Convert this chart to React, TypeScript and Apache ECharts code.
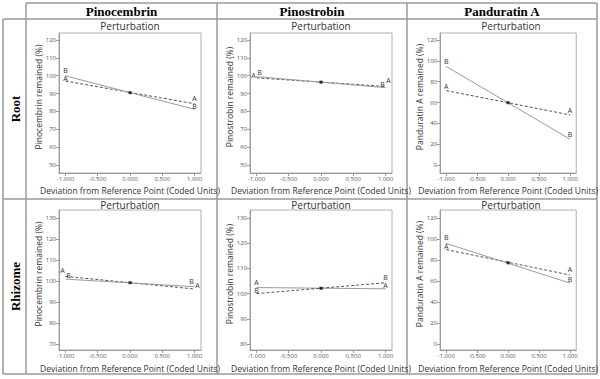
import { useEffect, useRef } from "react";
import * as echarts from "echarts";

// ---------- data ----------
const compounds = ["Pinocembrin", "Pinostrobin", "Panduratin A"];
const parts = ["Root", "Rhizome"];
const yNames = ["Pinocembrin remained (%)", "Pinostrobin remained (%)", "Panduratin A remained (%)"];
const xName = "Deviation from Reference Point (Coded Units)";
const plotTitle = "Perturbation";
const factors = ["A", "B"];
const deviation = [-1, 1];
const centerDeviation = 0;
const xTicks = [-1, -0.5, 0, 0.5, 1];

// values at deviation -1 and +1 for factor A and factor B
const rootPinocembrinA = [97.0, 84.3];
const rootPinocembrinB = [99.9, 81.2];
const rootPinostrobinA = [98.8, 94.0];
const rootPinostrobinB = [99.5, 93.3];
const rootPanduratinA_A = [71.4, 48.1];
const rootPanduratinA_B = [94.6, 24.8];
const rhizomePinocembrinA = [102.2, 96.2];
const rhizomePinocembrinB = [100.9, 97.3];
const rhizomePinostrobinA = [102.4, 101.9];
const rhizomePinostrobinB = [100.0, 104.3];
const rhizomePanduratinA_A = [89.9, 65.7];
const rhizomePanduratinA_B = [95.8, 58.0];
// reference point (deviation 0)
const centerValues = [90.5, 96.4, 59.8, 99.2, 102.1, 77.3];

const yTicksRootPinocembrin = [50, 60, 70, 80, 90, 100, 110, 120];
const yTicksRootPinostrobin = [50, 60, 70, 80, 90, 100, 110, 120];
const yTicksRootPanduratin = [0, 20, 40, 60, 80, 100, 120];
const yTicksRhizomePinocembrin = [70, 80, 90, 100, 110, 120, 130];
const yTicksRhizomePinostrobin = [80, 90, 100, 110, 120, 130];
const yTicksRhizomePanduratin = [0, 20, 40, 60, 80, 100, 120];

const panelA = [rootPinocembrinA, rootPinostrobinA, rootPanduratinA_A, rhizomePinocembrinA, rhizomePinostrobinA, rhizomePanduratinA_A];
const panelB = [rootPinocembrinB, rootPinostrobinB, rootPanduratinA_B, rhizomePinocembrinB, rhizomePinostrobinB, rhizomePanduratinA_B];
const panelTicks = [yTicksRootPinocembrin, yTicksRootPinostrobin, yTicksRootPanduratin, yTicksRhizomePinocembrin, yTicksRhizomePinostrobin, yTicksRhizomePanduratin];

// ---------- layout / style ----------
const SANS = "'Open Sans', 'Noto Sans', sans-serif";
const SERIF = "'Liberation Serif', 'DejaVu Serif', serif";
const colLeft = [59, 250, 440];
const boxW = 142;
const rowTop = [33, 210];
const boxH = 140;
const rowPad = [{ top: 7, bottom: 8 }, { top: 8, bottom: 6 }];
const xNameGap = [13, 14];
const titleOffset = [7, 5];
const tableX = [3, 26, 217, 407, 597];
const tableY = [3, 19, 199, 374];
const DASH = { color: "#555", type: [3, 2], width: 1 };
const SOLID = { color: "#9a9a9a", type: "solid", width: 1 };
// which factor is dashed per panel
const dashedFactor = ["A", "A", "A", "A", "B", "A"];
// label nudges [panel][factor] -> [left end, right end]
const labelNudge: Record<string, number[][]> = {
  "0A": [[0, 2], [0, -1]],
  "0B": [[0, -1], [0, 2]],
  "1A": [[-3, 2], [3, -1]],
  "1B": [[3, 0], [-3, 1]],
  "3A": [[-3, -1], [3, 1]],
  "3B": [[3, 1], [-3, -1]],
  "4A": [[0, -1], [0, 1]],
  "4B": [[0, 1], [0, -1]],
  "5A": [[0, 1], [0, -1]],
  "5B": [[0, -1], [0, 1]],
};

export default function App() {
  const ref = useRef<HTMLDivElement>(null);
  useEffect(() => {
    if (!ref.current) return;
    document.body.style.margin = "0";
    const chart = echarts.init(ref.current, undefined, { renderer: "svg" });

    const grids: any[] = [];
    const xAxes: any[] = [];
    const yAxes: any[] = [];
    const series: any[] = [];
    const graphics: any[] = [];

    for (let i = 0; i < 6; i++) {
      const r = Math.floor(i / 3);
      const c = i % 3;
      const ticks = panelTicks[i];
      const tMin = ticks[0];
      const tMax = ticks[ticks.length - 1];
      const pad = rowPad[r];
      const ppu = (boxH - pad.top - pad.bottom) / (tMax - tMin);
      const yMin = tMin - pad.bottom / ppu;
      const yMax = tMax + pad.top / ppu;

      grids.push({
        left: colLeft[c],
        top: rowTop[r],
        width: boxW,
        height: boxH,
        show: true,
        borderColor: "#b0b0b0",
        borderWidth: 1,
        backgroundColor: "transparent",
      });
      xAxes.push({
        type: "value",
        gridIndex: i,
        min: -1.1,
        max: 1.1,
        splitLine: { show: false },
        axisLine: { show: true, onZero: false, lineStyle: { color: "#9a9a9a" } },
        axisTick: { show: true, customValues: xTicks, length: 3, lineStyle: { color: "#9a9a9a" } },
        axisLabel: {
          customValues: xTicks,
          formatter: (v: number) => v.toFixed(3),
          fontSize: 6,
          color: "#555",
          margin: 3,
          fontFamily: SANS,
        },
        name: xName,
        nameLocation: "middle",
        nameGap: xNameGap[r],
        nameTextStyle: { fontSize: 8.5, color: "#333", fontFamily: SANS, lineHeight: 9 },
      });
      yAxes.push({
        type: "value",
        gridIndex: i,
        min: yMin,
        max: yMax,
        splitLine: { show: false },
        axisLine: { show: true, onZero: false, lineStyle: { color: "#9a9a9a" } },
        axisTick: { show: true, customValues: ticks, length: 3, lineStyle: { color: "#9a9a9a" } },
        axisLabel: {
          customValues: ticks,
          formatter: (v: number) => String(Math.round(v)),
          fontSize: 6,
          color: "#555",
          margin: 3,
          fontFamily: SANS,
        },
      });

      // y axis title
      graphics.push({
        type: "text",
        x: colLeft[c] - 21,
        y: rowTop[r] + boxH / 2 - 6,
        rotation: Math.PI / 2,
        style: {
          text: yNames[c],
          fill: "#333",
          fontSize: 8.5,
          fontFamily: SANS,
          textAlign: "center",
          textVerticalAlign: "middle",
          align: "center",
          verticalAlign: "middle",
        },
      });

      const vals = [panelA[i], panelB[i]];
      factors.forEach((f, k) => {
        const nudge = labelNudge[`${i}${f}`];
        const style = dashedFactor[i] === f ? DASH : SOLID;
        series.push({
          type: "line",
          name: f,
          xAxisIndex: i,
          yAxisIndex: i,
          symbol: "circle",
          symbolSize: 0.1,
          itemStyle: { color: style.color },
          lineStyle: style,
          label: {
            show: true,
            position: "top",
            distance: 1,
            formatter: () => f,
            fontSize: 7,
            color: "#333",
            textBorderWidth: 0,
            fontFamily: SANS,
          },
          data: deviation.map((x, j) =>
            nudge
              ? { value: [x, vals[k][j]], label: { offset: nudge[j] } }
              : { value: [x, vals[k][j]] }
          ),
          z: 3,
        });
      });
      series.push({
        type: "scatter",
        xAxisIndex: i,
        yAxisIndex: i,
        symbol: "rect",
        symbolSize: 3,
        itemStyle: { color: "#000" },
        data: [[centerDeviation, centerValues[i]]],
        z: 5,
      });

      graphics.push({
        type: "text",
        x: colLeft[c] + boxW / 2,
        y: rowTop[r] - titleOffset[r],
        style: {
          text: plotTitle,
          fill: "#333",
          fontSize: 10,
          lineHeight: 11,
          fontFamily: SANS,
          textAlign: "center",
          textVerticalAlign: "middle",
          align: "center",
          verticalAlign: "middle",
        },
      });
    }

    // table lines
    const lineStyle = { stroke: "#9a9a9a", lineWidth: 1.5 };
    const L = (x1: number, y1: number, x2: number, y2: number) => ({
      type: "line",
      shape: { x1, y1, x2, y2 },
      style: lineStyle,
      silent: true,
    });
    graphics.push(L(tableX[1], tableY[0], tableX[4], tableY[0]));
    graphics.push(L(tableX[0], tableY[1], tableX[4], tableY[1]));
    graphics.push(L(tableX[0], tableY[2], tableX[4], tableY[2]));
    graphics.push(L(tableX[0], tableY[3], tableX[4], tableY[3]));
    graphics.push(L(tableX[0], tableY[1], tableX[0], tableY[3]));
    for (let k = 1; k < 5; k++) graphics.push(L(tableX[k], tableY[0], tableX[k], tableY[3]));

    compounds.forEach((name, c) => {
      graphics.push({
        type: "text",
        x: (tableX[c + 1] + tableX[c + 2]) / 2,
        y: (tableY[0] + tableY[1]) / 2 + 0.5,
        style: {
          text: name,
          fill: "#000",
          fontSize: 13,
          fontWeight: "bold",
          fontFamily: SERIF,
          textAlign: "center",
          textVerticalAlign: "middle",
          align: "center",
          verticalAlign: "middle",
        },
      });
    });
    parts.forEach((name, r) => {
      graphics.push({
        type: "text",
        x: (tableX[0] + tableX[1]) / 2 + 0.5,
        y: (tableY[r + 1] + tableY[r + 2]) / 2,
        rotation: Math.PI / 2,
        style: {
          text: name,
          fill: "#000",
          fontSize: 13,
          fontWeight: "bold",
          fontFamily: SERIF,
          textAlign: "center",
          textVerticalAlign: "middle",
          align: "center",
          verticalAlign: "middle",
        },
      });
    });

    chart.setOption({
      animation: false,
      backgroundColor: "#fff",
      grid: grids,
      xAxis: xAxes,
      yAxis: yAxes,
      series,
      graphic: graphics,
    });
    return () => chart.dispose();
  }, []);
  return <div ref={ref} style={{ position: "fixed", left: 0, top: 0, width: 600, height: 379 }} />;
}
